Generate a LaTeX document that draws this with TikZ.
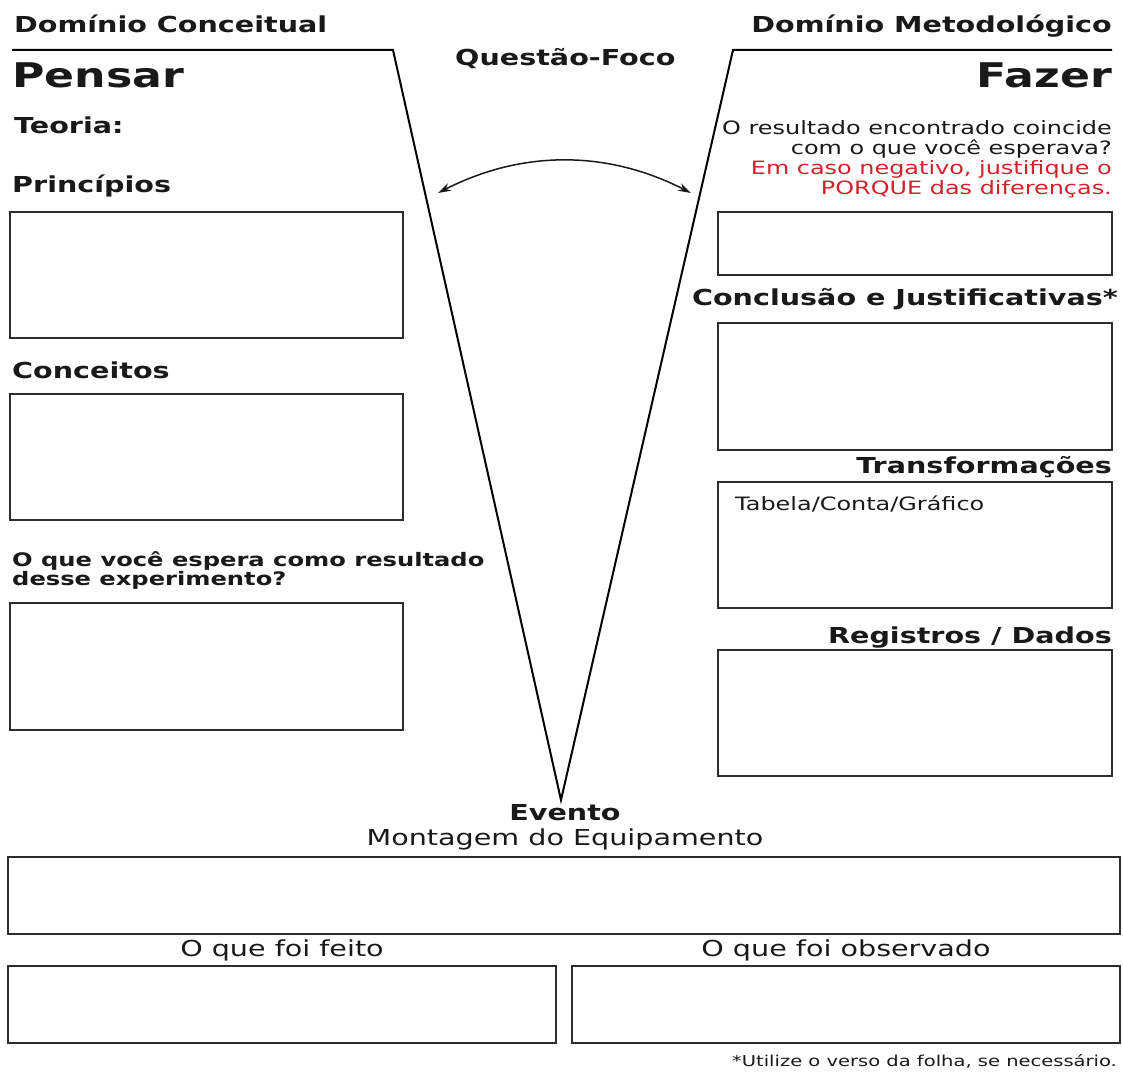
\documentclass[tikz,border=0pt]{standalone}
\usepackage{fontspec}
\setmainfont{DejaVu Sans}[FakeStretch=1.3]
\usetikzlibrary{arrows.meta}
\definecolor{ink}{RGB}{25,25,25}
\definecolor{boxline}{RGB}{45,45,45}
\definecolor{vred}{RGB}{205,35,45}
\tikzset{
  box/.style={draw=boxline, line width=2.2pt, inner sep=0pt, outer sep=0pt},
  head/.style={inner sep=0pt, text=ink, font=\fontsize{22}{26}\selectfont\bfseries},
  big/.style={inner sep=0pt, text=ink, font=\fontsize{34}{40}\selectfont\bfseries},
  plain/.style={inner sep=0pt, text=ink, font=\fontsize{22}{26}\selectfont},
  para/.style={inner sep=0pt, text=ink, font=\fontsize{18.4}{20}\selectfont},
  vline/.style={draw=black, line width=2pt, line join=miter},
  tip/.tip={Stealth[length=13pt,width=8pt]},
}
\begin{document}
\begin{tikzpicture}[x=1pt,y=-1pt]
\useasboundingbox (0,0) rectangle (1123,1075);
% headers
\node[head, anchor=base west] (domc) at (14,33) {Domínio Conceitual};
\node[head, anchor=base east] (domm) at (1112,33) {Domínio Metodológico};
\node[head, anchor=base west] (qf) at (455,66) {Questão-Foco};
\node[big, anchor=base west] (pensar) at (12,88) {Pensar};
\node[big, anchor=base east] (fazer) at (1112,88) {Fazer};
% V shape
\coordinate (tl) at (12,50);
\coordinate (vl) at (393,50);
\coordinate (apex) at (561,800);
\coordinate (vr) at (733,50);
\coordinate (tr) at (1112,50);
\draw[vline] (tl) -- (vl) -- (apex) -- (vr) -- (tr);
% curved double arrow
\coordinate (al) at (438,193);
\coordinate (ar) at (691,193);
\draw[line width=1.5pt, draw=ink, {tip}-{tip}]
  (al) .. controls (522,150) and (607,150) .. (ar);
% left column
\node[head, anchor=base west] (teoria) at (14,134) {Teoria:};
\node[head, anchor=base west] (princ) at (12,193) {Princípios};
\node[box, minimum width=393pt, minimum height=126pt] (bprinc) at (206.5,275) {};
\node[head, anchor=base west] (conc) at (12,378) {Conceitos};
\node[box, minimum width=393pt, minimum height=126pt] (bconc) at (206.5,457) {};
\node[inner sep=0pt, text=ink, font=\fontsize{18.6}{17.5}\selectfont\bfseries, align=left, anchor=north west] (espera) at (12,551)
  {O que você espera como resultado\\desse experimento?};
\node[box, minimum width=393pt, minimum height=127pt] (besp) at (206.5,666.5) {};
% right column
\node[para, align=right, anchor=north east] (result) at (1112,120)
  {O resultado encontrado coincide\\com o que você esperava?\\\textcolor{vred}{Em caso negativo, justifique o}\\\textcolor{vred}{PORQUE das diferenças.}};
\node[box, minimum width=394pt, minimum height=63pt] (bres) at (915,243.5) {};
\node[head, anchor=base east] (concl) at (1118,305) {Conclusão e Justificativas*};
\node[box, minimum width=394pt, minimum height=127pt] (bconcl) at (915,386.5) {};
\node[head, anchor=base east] (transf) at (1112,473) {Transformações};
\node[box, minimum width=394pt, minimum height=126pt] (btransf) at (915,545) {};
\node[para, anchor=base west] (tabela) at (735,510) {Tabela/Conta/Gráfico};
\node[head, anchor=base east] (reg) at (1112,643) {Registros / Dados};
\node[box, minimum width=394pt, minimum height=126pt] (breg) at (915,713) {};
% bottom
\node[head, anchor=base] (evento) at (565,820) {Evento};
\node[plain, anchor=base] (mont) at (565,845) {Montagem do Equipamento};
\node[box, minimum width=1112pt, minimum height=77pt] (bmont) at (564,895.5) {};
\node[plain, anchor=base] (feito) at (282,956) {O que foi feito};
\node[plain, anchor=base] (obs) at (846,956) {O que foi observado};
\node[box, minimum width=548pt, minimum height=77pt] (bfeito) at (282,1004.5) {};
\node[box, minimum width=548pt, minimum height=77pt] (bobs) at (846,1004.5) {};
\node[inner sep=0pt, text=ink, font=\fontsize{15}{18}\selectfont, anchor=base east] (nota) at (1117,1066) {*Utilize o verso da folha, se necessário.};
\end{tikzpicture}
\end{document}
